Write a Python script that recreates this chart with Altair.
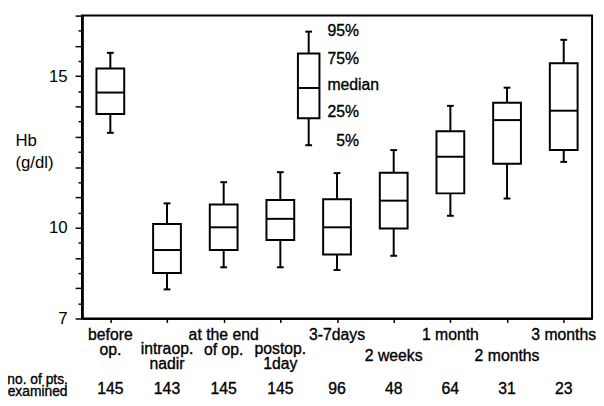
import altair as alt
import pandas as pd

# ---- data ----
label_text = ["before\nop.", "intraop.\nnadir", "at the end\nof op.", "postop.\n1day",
              "3-7days", "2 weeks", "1 month", "2 months", "3 months"]
label_level = [0, 1, 0, 1, 0, 2, 0, 2, 0]
n_pts = [145, 143, 145, 145, 96, 48, 64, 31, 23]
p5 = [13.13, 7.96, 8.69, 8.69, 8.60, 9.07, 10.39, 10.96, 12.17]
p25 = [13.75, 8.50, 9.26, 9.59, 9.11, 9.97, 11.13, 12.11, 12.56]
p50 = [14.46, 9.26, 10.01, 10.29, 10.01, 10.89, 12.34, 13.55, 13.86]
p75 = [15.25, 10.12, 10.76, 10.91, 10.94, 11.81, 13.18, 14.12, 15.43]
p95 = [15.77, 10.80, 11.50, 11.83, 11.80, 12.56, 14.02, 14.62, 16.20]

legend_pos = 4.5
legend_stats = [12.72, 13.61, 14.61, 15.75, 16.47]  # 5, 25, median, 75, 95
legend_labels = ["5%", "25%", "median", "75%", "95%"]
legend_label_at = [12.86, 13.80, 14.70, 15.58, 16.48]

y_labeled = [7, 10, 15]
y_major_other = [8, 9, 11, 12, 13, 14, 16, 17]
y_minor = [7.5 + i for i in range(10)]

FONT = "Liberation Sans"

pos = list(range(1, 10))
df = pd.DataFrame(dict(pos=pos, p5=p5, p25=p25, p50=p50, p75=p75, p95=p95,
                       hw=0.245, label=label_text, level=label_level, n=n_pts))
leg = pd.DataFrame(dict(pos=[legend_pos], p5=[legend_stats[0]], p25=[legend_stats[1]],
                        p50=[legend_stats[2]], p75=[legend_stats[3]], p95=[legend_stats[4]],
                        hw=[0.19]))
boxes = pd.concat([df[["pos", "p5", "p25", "p50", "p75", "p95", "hw"]], leg], ignore_index=True)
boxes["xl"] = boxes["pos"] - boxes["hw"]
boxes["xr"] = boxes["pos"] + boxes["hw"]
boxes["cl"] = boxes["pos"] - 0.06
boxes["cr"] = boxes["pos"] + 0.06

leg_lab = pd.DataFrame(dict(pos=[legend_pos] * 5, val=legend_label_at, lab=legend_labels))

xs = alt.Scale(domain=[0.5, 9.5], nice=False, zero=False)
ys = alt.Scale(domain=[7, 17], nice=False, zero=False)

xaxis = alt.Axis(values=pos, labels=False, tickSize=4, tickWidth=1.5, title="",
                 grid=False, domainWidth=2, domainColor="black", tickColor="black")

axis_common = dict(orient="left", grid=False, domainWidth=2, domainColor="black",
                   tickColor="black", tickWidth=1.5)
yaxis_a = alt.Axis(values=y_labeled, format="d", tickSize=7,
                   labelFontSize=17, labelFont=FONT, labelColor="black", labelPadding=8,
                   labelOverlap=False,
                   title=["Hb", "(g/dl)"], titleAngle=0, titleAlign="left",
                   titleBaseline="alphabetic", titleX=-68, titleY=132, titleLineHeight=22,
                   titleFont=FONT, titleFontSize=17, titleFontWeight="normal",
                   titleColor="black", **axis_common)
yaxis_b = alt.Axis(values=y_major_other, labels=False, tickSize=7, title="", **axis_common)
yaxis_c = alt.Axis(values=y_minor, labels=False, tickSize=4, title="", **axis_common)

base = alt.Chart(boxes)
LW = 2

whisk_lo = base.mark_rule(color="black", strokeWidth=LW).encode(
    x=alt.X("pos:Q", scale=xs, axis=xaxis),
    y=alt.Y("p5:Q", scale=ys, axis=yaxis_a), y2="p25:Q")
whisk_hi = base.mark_rule(color="black", strokeWidth=LW).encode(
    x="pos:Q", y=alt.Y("p75:Q", axis=yaxis_b), y2="p95:Q")
cap_lo = base.mark_rule(color="black", strokeWidth=LW).encode(
    x="cl:Q", x2="cr:Q", y=alt.Y("p5:Q", axis=yaxis_c))
cap_hi = base.mark_rule(color="black", strokeWidth=LW).encode(
    x="cl:Q", x2="cr:Q", y=alt.Y("p95:Q", axis=None))
box = base.mark_rect(fill="white", stroke="black", strokeWidth=LW).encode(
    x="xl:Q", x2="xr:Q", y=alt.Y("p25:Q", axis=None), y2="p75:Q")
med = base.mark_rule(color="black", strokeWidth=LW).encode(
    x="xl:Q", x2="xr:Q", y=alt.Y("p50:Q", axis=None))

TXT = dict(font=FONT, color="black", stroke="black", strokeWidth=0.35)

lab_y = {0: 329, 1: 343, 2: 350}
label_layers = []
for lvl, py in lab_y.items():
    label_layers.append(
        alt.Chart(df).transform_filter(f"datum.level == {lvl}").mark_text(
            fontSize=16, lineBreak="\n", lineHeight=15, baseline="alphabetic",
            align="center", **TXT).encode(
            x="pos:Q", y=alt.value(py), text="label:N"))

counts = alt.Chart(df).mark_text(fontSize=16, baseline="alphabetic",
                                 align="center", **TXT).encode(
    x="pos:Q", y=alt.value(384), text="n:Q")

rowtitle = alt.Chart(pd.DataFrame({"t": ["no. of pts.\nexamined"]})).mark_text(
    fontSize=14, lineBreak="\n", lineHeight=12.5, baseline="alphabetic",
    align="center", **TXT).encode(
    x=alt.value(-45), y=alt.value(373.5), text="t:N")

leg_text = alt.Chart(leg_lab).transform_filter("datum.lab != '5%'").mark_text(
    fontSize=16, align="left", baseline="middle", dx=19, **TXT).encode(
    x="pos:Q", y=alt.Y("val:Q", axis=None), text="lab:N")
leg_text5 = alt.Chart(leg_lab).transform_filter("datum.lab == '5%'").mark_text(
    fontSize=16, align="left", baseline="middle", dx=28, **TXT).encode(
    x="pos:Q", y=alt.Y("val:Q", axis=None), text="lab:N")

chart = alt.layer(whisk_lo, whisk_hi, cap_lo, cap_hi, box, med, *label_layers, counts,
                  rowtitle, leg_text, leg_text5).resolve_axis(y="independent").properties(
    width=517, height=307,
    autosize=alt.AutoSizeParams(type="none"),
    padding={"left": 75, "top": 5, "right": 4, "bottom": 85},
).configure_view(stroke="black", strokeWidth=2).configure_axis(grid=False)

chart.save("out.html", embed_options={"renderer": "svg", "actions": False})
